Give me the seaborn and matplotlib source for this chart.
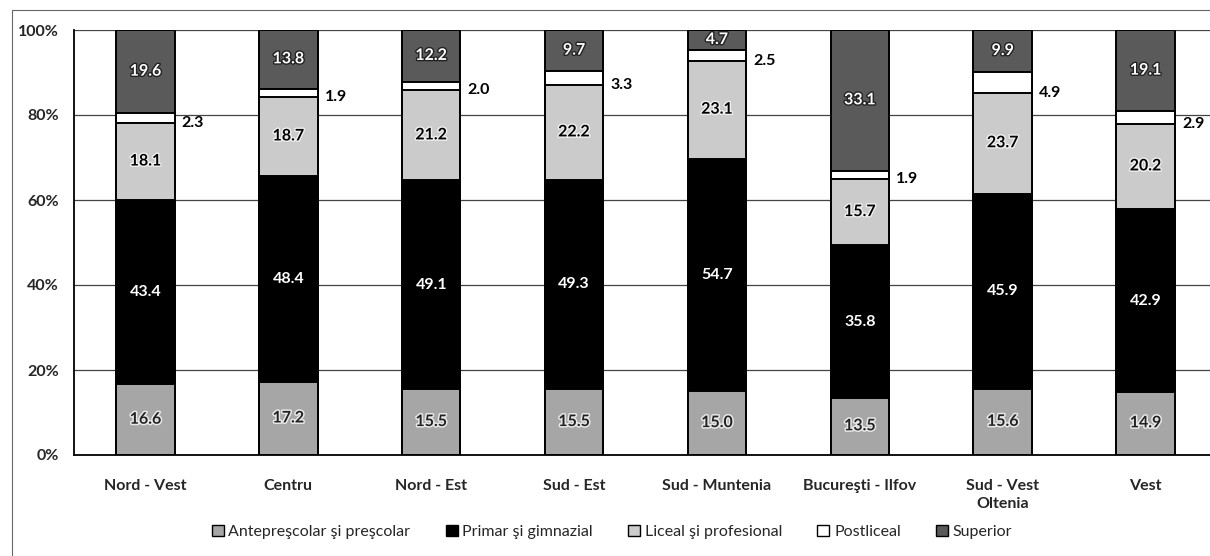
import matplotlib
matplotlib.use("Agg")
import matplotlib.pyplot as plt
import matplotlib.patheffects as pe
from matplotlib.patches import Patch, Rectangle
import numpy as np
import pandas as pd
import seaborn as sns

regions = ["Nord - Vest", "Centru", "Nord - Est", "Sud - Est", "Sud - Muntenia",
           "Bucureşti - Ilfov", "Sud - Vest\nOltenia", "Vest"]
series = ["Antepreşcolar şi preşcolar", "Primar şi gimnazial", "Liceal şi profesional",
          "Postliceal", "Superior"]
antepre = [16.6, 17.2, 15.5, 15.5, 15.0, 13.5, 15.6, 14.9]
primar = [43.4, 48.4, 49.1, 49.3, 54.7, 35.8, 45.9, 42.9]
liceal = [18.1, 18.7, 21.2, 22.2, 23.1, 15.7, 23.7, 20.2]
postliceal = [2.3, 1.9, 2.0, 3.3, 2.5, 1.9, 4.9, 2.9]
superior = [19.6, 13.8, 12.2, 9.7, 4.7, 33.1, 9.9, 19.1]
ytick_labels = ["0%", "20%", "40%", "60%", "80%", "100%"]

values = [antepre, primar, liceal, postliceal, superior]
colors = ["#a6a6a6", "#000000", "#cbcbcb", "#ffffff", "#5a5a5a"]

rows = []
for s, vals in zip(series, values):
    for r, v in zip(regions, vals):
        rows.append({"region": r, "series": s, "value": v})
df = pd.DataFrame(rows)
df["top"] = df.groupby("region", sort=False)["value"].cumsum()
df["bottom"] = df["top"] - df["value"]

sns.set_theme(style="white")
plt.rcParams["font.family"] = ["Lato", "DejaVu Sans"]

FS = 11.5

fig = plt.figure(figsize=(12.1, 5.56), dpi=100)
ax = fig.add_axes([74 / 1210, 1 - 455 / 556, 1143 / 1210, 425 / 556])

BW = 0.41
for s, c in reversed(list(zip(series, colors))):
    sub = df[df["series"] == s]
    sns.barplot(data=sub, x="region", y="top", order=regions, color=c,
                width=BW, edgecolor="black", linewidth=1.4, saturation=1,
                ax=ax, zorder=3)

ax.set_xlim(-0.5, len(regions) - 0.5)
ax.set_ylim(0, 100)
ax.set_yticks(np.arange(0, 101, 20))
ax.set_yticklabels(ytick_labels)
ax.set_xlabel("")
ax.set_ylabel("")
ax.grid(False)
for yv in np.arange(20, 101, 20):
    ax.axhline(yv, color="#444444", lw=0.9, zorder=1)

for sp in ["top", "right"]:
    ax.spines[sp].set_visible(False)
for sp in ["left", "bottom"]:
    ax.spines[sp].set_color("black")
    ax.spines[sp].set_linewidth(1.3)

ax.set_xticks(np.arange(len(regions)))
ax.set_xticklabels(regions, fontsize=FS, fontweight="bold", linespacing=1.4)
ax.set_xticks(np.arange(-0.5, len(regions), 1), minor=True)
ax.tick_params(axis="x", which="major", length=0, pad=17)
ax.tick_params(axis="x", which="minor", length=5, width=1, color="black", direction="out")
ax.tick_params(axis="y", length=5, width=1, color="black", direction="out", pad=6,
               labelsize=FS)
for t in ax.get_yticklabels():
    t.set_fontweight("bold")

# data labels
for i, s in enumerate(series):
    sub = df[df["series"] == s].set_index("region").loc[regions]
    for j, r in enumerate(regions):
        v = sub.loc[r, "value"]
        b = sub.loc[r, "bottom"]
        lab = f"{v:.1f}"
        if i == 3:
            ax.text(j + BW / 2 + 0.05, b, lab, ha="left", va="center",
                    fontsize=FS, fontweight="bold", color="black", zorder=5)
            continue
        yc = b + v / 2
        if i == 0:
            ax.text(j, yc, lab, ha="center", va="center", fontsize=FS,
                    fontweight="bold", color="#222222", zorder=5,
                    path_effects=[pe.withStroke(linewidth=2.2, foreground="#e8e8e8")])
        elif i == 1:
            ax.text(j, yc, lab, ha="center", va="center", fontsize=FS,
                    fontweight="bold", color="white", zorder=5)
        elif i == 2:
            ax.text(j, yc, lab, ha="center", va="center", fontsize=FS,
                    fontweight="bold", color="black", zorder=5,
                    path_effects=[pe.withStroke(linewidth=2.0, foreground="#f0f0f0")])
        else:
            ax.text(j, yc, lab, ha="center", va="center", fontsize=FS,
                    fontweight="bold", color="white", zorder=5,
                    path_effects=[pe.withStroke(linewidth=2.0, foreground="#222222")])

handles = [Patch(facecolor=c, edgecolor="black", linewidth=1.0, label=s)
           for s, c in zip(series, colors)]
fig.legend(handles=handles, loc="center", bbox_to_anchor=(612 / 1210, 1 - 532 / 556),
           ncol=5, frameon=False, fontsize=11.5, handlelength=0.75, handleheight=0.75,
           handletextpad=0.3, columnspacing=2.2, borderaxespad=0)

fig.patches.append(Rectangle((12 / 1210, -0.1), 1.2, 1.1 - 10 / 556,
                             transform=fig.transFigure, fill=False,
                             edgecolor="#666666", lw=0.8, zorder=0))

fig.savefig("out.png", dpi=100)
